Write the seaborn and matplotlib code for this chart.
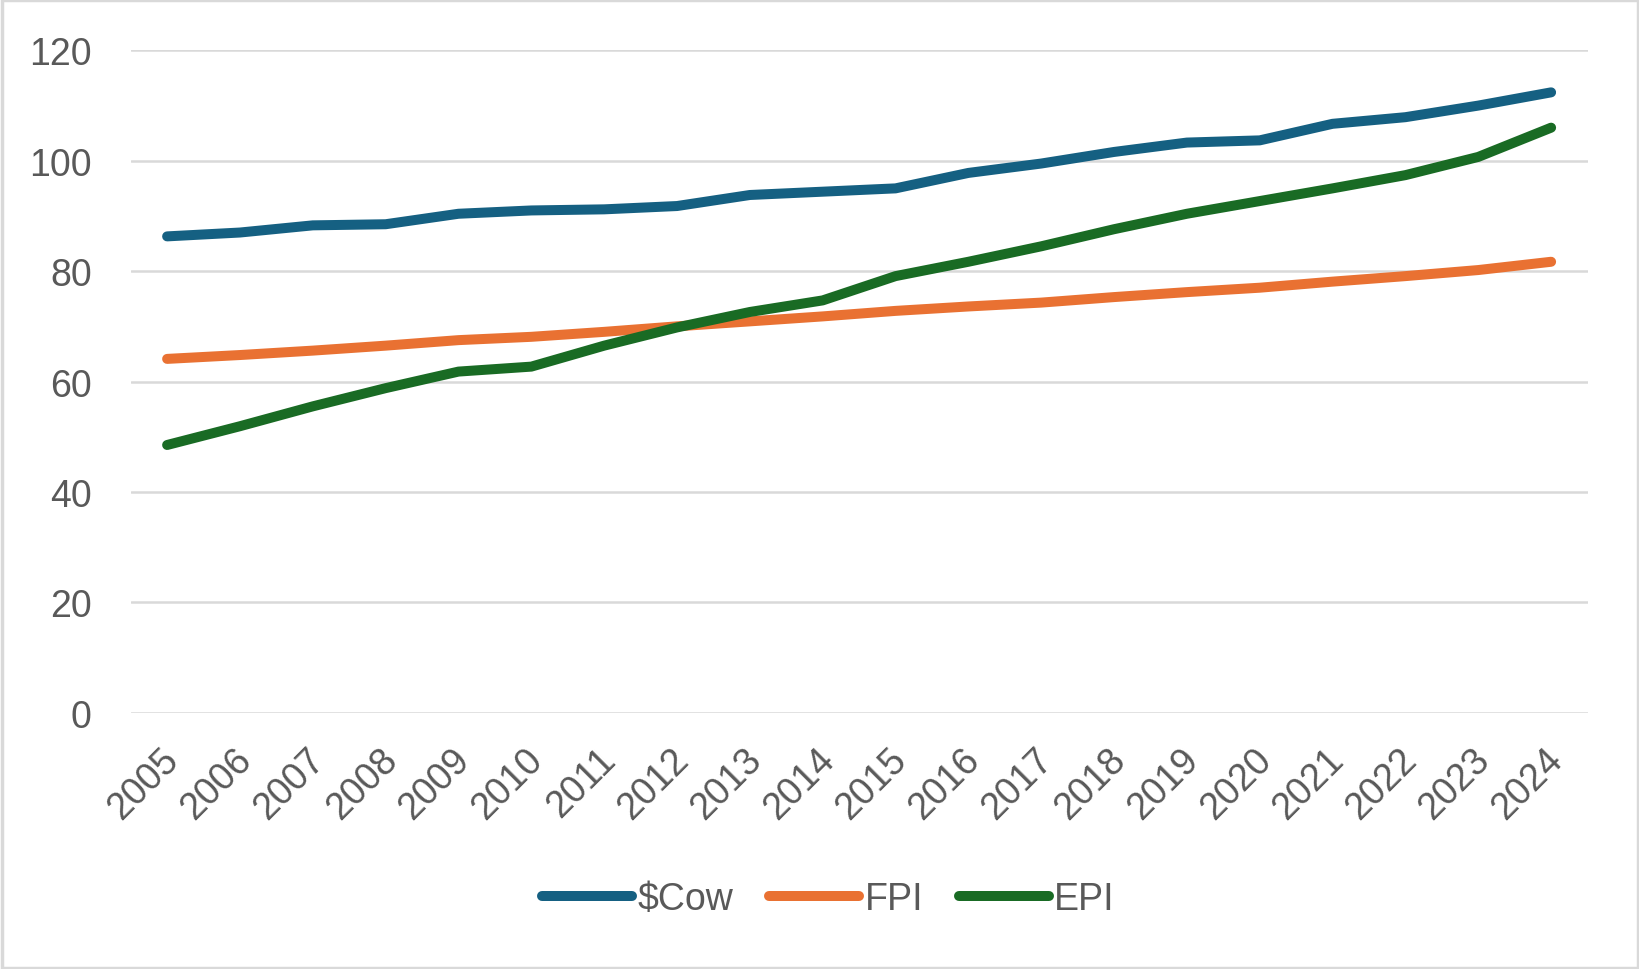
import matplotlib
matplotlib.use("Agg")
import matplotlib.pyplot as plt
import matplotlib.transforms as mtrans
import pandas as pd
import seaborn as sns

years = [str(y) for y in range(2005, 2025)]
cow = [86.3, 87.0, 88.3, 88.5, 90.4, 91.0, 91.2, 91.8, 93.8, 94.4,
       95.0, 97.8, 99.5, 101.6, 103.3, 103.7, 106.7, 107.9, 110.0, 112.4]
fpi = [64.1, 64.8, 65.6, 66.5, 67.5, 68.1, 69.0, 70.0, 70.9, 71.8,
       72.8, 73.6, 74.3, 75.3, 76.2, 77.0, 78.1, 79.1, 80.2, 81.7]
epi = [48.5, 51.9, 55.5, 58.8, 61.8, 62.7, 66.5, 69.8, 72.6, 74.7,
       79.1, 81.7, 84.5, 87.6, 90.4, 92.7, 95.0, 97.4, 100.7, 106.0]
series = ["$Cow", "FPI", "EPI"]
colors = ["#156082", "#E97132", "#196B24"]
y_ticks = [0, 20, 40, 60, 80, 100, 120]

df = pd.DataFrame({
    "year": years * 3,
    "value": cow + fpi + epi,
    "series": [series[0]] * 20 + [series[1]] * 20 + [series[2]] * 20,
})

sns.set_style("white")
plt.rcParams["font.family"] = ["Liberation Sans", "DejaVu Sans"]
text_col = "#595959"

fig = plt.figure(figsize=(16.4, 9.7), dpi=100)
ax = fig.add_axes([0.0797, 0.2643, 0.8883, 0.6827])

sns.lineplot(data=df, x="year", y="value", hue="series", palette=colors,
             linewidth=7.2, sort=False, ax=ax,
             solid_capstyle="round", solid_joinstyle="round")

ax.set_xlim(-0.5, 19.5)
ax.set_ylim(0, 120)
ax.set_yticks(y_ticks)
ax.set_xlabel("")
ax.set_ylabel("")
ax.grid(axis="y", color="#D9D9D9", linewidth=1.8)
ax.set_axisbelow(True)
for s in ax.spines.values():
    s.set_visible(False)
ax.tick_params(axis="both", length=0, labelsize=27, colors=text_col)
ax.tick_params(axis="y", pad=28)
ax.tick_params(axis="x", pad=30)
shift = mtrans.ScaledTranslation(6 / 100, 0, fig.dpi_scale_trans)
for lab in ax.get_xticklabels():
    lab.set_rotation(45)
    lab.set_ha("right")
    lab.set_rotation_mode("anchor")
    lab.set_va("center")
    lab.set_transform(lab.get_transform() + shift)
for lab in ax.get_yticklabels():
    lab.set_ha("right")

handles, labels = ax.get_legend_handles_labels()
leg = ax.legend(handles, labels, loc="center", bbox_to_anchor=(0.505, 0.072),
                bbox_transform=fig.transFigure, ncol=3, frameon=False,
                fontsize=27, handlelength=2.4, handletextpad=0.15,
                columnspacing=0.95, labelcolor=text_col)
for h in leg.get_lines():
    h.set_linewidth(7.2)
    h.set_solid_capstyle("round")

fig.patches.append(plt.Rectangle((0.001, 0.001), 0.998, 0.998, transform=fig.transFigure,
                                 fill=False, edgecolor="#D9D9D9", linewidth=2.5))

fig.savefig("out.png", dpi=100, facecolor="white")
